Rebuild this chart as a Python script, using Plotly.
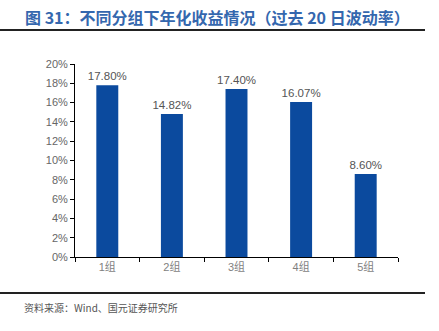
import plotly.graph_objects as go

groups = ["1组", "2组", "3组", "4组", "5组"]
returns = [17.80, 14.82, 17.40, 16.07, 8.60]
y_ticks = [0, 2, 4, 6, 8, 10, 12, 14, 16, 18, 20]

# plot area geometry in pixels
W, H = 439, 331
L, R, T, B = 75, 41, 64, 74
pw, ph = W - L - R, H - T - B


def px_x(x):
    return (x - L) / pw


def px_y(y):
    return (H - B - y) / ph


fig = go.Figure()
fig.add_trace(go.Bar(
    x=groups,
    y=returns,
    width=0.34,
    marker=dict(color="#0B4A9E", line=dict(width=0)),
    text=[f"{v:.2f}%" for v in returns],
    textposition="outside",
    constraintext="none",
    textfont=dict(family="Liberation Sans, Arial", size=11.5, color="#555555"),
    cliponaxis=False,
))

fig.update_layout(
    width=W, height=H,
    margin=dict(l=L, r=R, t=T, b=B),
    paper_bgcolor="white", plot_bgcolor="white",
    showlegend=False,
    font=dict(family="Liberation Sans, Noto Sans CJK SC", size=11, color="#595959"),
)
fig.update_xaxes(
    showline=True, linecolor="#000000", linewidth=1,
    ticks="outside", ticklen=4, tickcolor="#000000",
    tickson="boundaries",
    tickfont=dict(family="Liberation Sans, Noto Sans CJK SC", size=11, color="#7F7F7F"),
    showgrid=False,
)
fig.update_yaxes(
    range=[0, 20], tickvals=y_ticks, ticktext=[f"{t}%" for t in y_ticks],
    showline=True, linecolor="#000000", linewidth=1,
    ticks="outside", ticklen=4, tickcolor="#000000",
    tickfont=dict(family="Liberation Sans", size=11, color="#666666"),
    showgrid=False, zeroline=False,
)

fig.add_annotation(
    text="<b>图 31：不同分组下年化收益情况（过去 20 日波动率）</b>",
    xref="paper", yref="paper", x=px_x(23), y=px_y(17),
    xanchor="left", yanchor="middle",
    showarrow=False,
    font=dict(family="Noto Sans CJK SC", size=16, color="#3467AE"),
)
fig.add_shape(type="line", xref="paper", yref="paper",
              x0=px_x(0), x1=px_x(425), y0=px_y(30), y1=px_y(30),
              line=dict(color="#222222", width=2))
fig.add_annotation(
    text="资料来源：Wind、国元证券研究所",
    xref="paper", yref="paper", x=px_x(22), y=px_y(307),
    xanchor="left", yanchor="middle",
    showarrow=False,
    font=dict(family="Noto Sans CJK SC", size=10, color="#555555"),
)
fig.add_shape(type="line", xref="paper", yref="paper",
              x0=px_x(0), x1=px_x(425), y0=px_y(293), y1=px_y(293),
              line=dict(color="#222222", width=2))

fig.write_html("out.html")
